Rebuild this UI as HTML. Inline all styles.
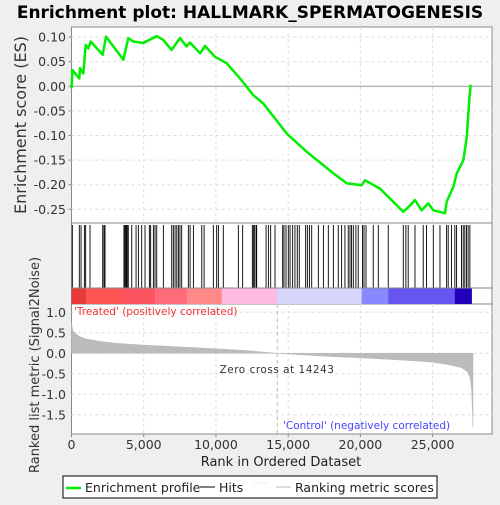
<!DOCTYPE html>
<html><head><meta charset="utf-8"><style>
body{margin:0;background:#efefef;width:500px;height:500px;overflow:hidden;font-family:"Liberation Sans","DejaVu Sans",sans-serif}
svg text{font-family:"DejaVu Sans","Liberation Sans",sans-serif}
</style></head><body>
<svg id="c" width="500" height="500"></svg>
<script>
const esRanks=[0,60,540,590,820,980,1165,1330,2160,2390,3590,3930,4280,4970,5900,6360,6930,7510,7970,8200,8900,9240,9935,10740,11665,12590,13280,14900,16280,18130,19050,20090,20320,21360,22970,23440,23780,24240,24700,25050,25860,25970,26440,26670,27130,27370,27550,27640];
const esValues=[-0.004,0.033,0.016,0.037,0.026,0.084,0.077,0.091,0.064,0.101,0.054,0.098,0.091,0.088,0.102,0.094,0.074,0.098,0.081,0.089,0.067,0.082,0.060,0.047,0.016,-0.018,-0.035,-0.096,-0.133,-0.177,-0.197,-0.201,-0.191,-0.208,-0.255,-0.242,-0.231,-0.252,-0.238,-0.252,-0.258,-0.235,-0.204,-0.177,-0.150,-0.102,-0.024,0.003];
const hitRanks=[58,540,660,890,980,1280,2160,2250,2320,3630,3700,3770,3820,3890,3930,4170,4470,4630,4860,5090,5390,5480,5670,5780,5900,6360,6940,7050,7170,7290,7400,7510,7630,8090,8210,8440,9020,9180,9820,10050,10170,10510,11550,11850,12520,12590,12680,12780,12820,13470,13630,13790,14090,14620,14710,14850,15010,15130,15310,15470,15630,15770,16210,16330,16470,16630,17090,17440,17780,18130,18470,18700,18930,19160,19280,19390,19510,19690,19850,20150,20250,20390,20890,21240,21930,22970,23150,23310,23780,24350,24580,25050,25510,25970,26080,26310,26540,26660,27000,27120,27230,27350,27460,27580];
const metricRanks=[0,100,500,1000,2000,3000,5000,8000,10000,12000,14243,16000,18000,20000,22000,24000,25000,26000,27000,27400,27600,27700,27800];
const metricValues=[0.75,0.55,0.42,0.35,0.29,0.25,0.2,0.15,0.11,0.07,0,-0.04,-0.08,-0.11,-0.15,-0.19,-0.22,-0.27,-0.35,-0.45,-0.6,-0.9,-1.8];
const xTicks=[0,5000,10000,15000,20000,25000];
const esTicks=[0.10,0.05,0.00,-0.05,-0.10,-0.15,-0.20,-0.25];
const mTicks=[1.0,0.5,0.0,-0.5,-1.0,-1.5];
const zeroCross=14243;

const L=71.5,R=492;
const X=r=>L+r*0.014444;
const YE=v=>86.3-v*492;
const YM=v=>353.3-v*41;
const svg=document.getElementById('c');
const NS='http://www.w3.org/2000/svg';
function add(tag,attrs,parent){const e=document.createElementNS(NS,tag);for(const k in attrs)e.setAttribute(k,attrs[k]);(parent||svg).appendChild(e);return e;}
function txt(s,attrs){const e=add('text',attrs);e.textContent=s;return e;}

let t=txt('Enrichment plot: HALLMARK_SPERMATOGENESIS',{x:250,y:18,'text-anchor':'middle','font-size':'17','font-weight':'bold',fill:'#000'});


let p=add('rect',{x:L,y:27,width:R-L,height:196,fill:'#fff',stroke:'#888'});

p=add('rect',{x:L,y:223,width:R-L,height:81,fill:'#fff',stroke:'#888'});

p=add('rect',{x:L,y:304,width:R-L,height:130,fill:'#fff',stroke:'#888'});


xTicks.forEach(v=>{if(v>0){add('line',{x1:X(v),x2:X(v),y1:27,y2:223,stroke:'#ddd','stroke-dasharray':'3,3'});add('line',{x1:X(v),x2:X(v),y1:304,y2:434,stroke:'#ddd','stroke-dasharray':'3,3'});}});
esTicks.forEach(v=>{add('line',{x1:L,x2:R,y1:YE(v),y2:YE(v),stroke:v===0?'#999':'#ddd','stroke-dasharray':v===0?'':'3,3'});
 const e=txt(v.toFixed(2),{x:66,y:YE(v)+4.5,'text-anchor':'end','font-size':'12.5',fill:'#333'});
 
 add('line',{x1:L-3,x2:L,y1:YE(v),y2:YE(v),stroke:'#888'});});
mTicks.forEach(v=>{add('line',{x1:L,x2:R,y1:YM(v),y2:YM(v),stroke:'#ddd','stroke-dasharray':'3,3'});
 const e=txt(v.toFixed(1),{x:66,y:YM(v)+4.5,'text-anchor':'end','font-size':'12.5',fill:'#333'});
 });
xTicks.forEach(v=>{const e=txt(v.toLocaleString('en-US'),{x:X(v),y:449,'text-anchor':'middle','font-size':'12.5',fill:'#333'});
 
 add('line',{x1:X(v),x2:X(v),y1:434,y2:437,stroke:'#888'});});

let d=esRanks.map((r,i)=>(i?'L':'M')+X(r).toFixed(1)+','+YE(esValues[i]).toFixed(1)).join(' ');
let es=add('path',{d:d,fill:'none',stroke:'#00ee00','stroke-width':2.5,'stroke-linejoin':'round'});


hitRanks.forEach(r=>{const h=add('line',{x1:X(r),x2:X(r),y1:225,y2:288,stroke:'#000','stroke-width':0.9});
 });

const segs=[[0,1000,'#e83a3a'],[1000,3640,'#ff5555'],[3640,5780,'#fa5560'],[5780,7980,'#ff6b78'],[7980,10400,'#ff8888'],[10400,14210,'#ffbbe0'],[14210,20090,'#d6d6fa'],[20090,21930,'#8888ff'],[21930,26540,'#6655ee'],[26540,27700,'#2200bb']];
segs.forEach(s=>{const r=add('rect',{x:X(s[0]),y:288,width:X(s[1])-X(s[0])+0.3,height:16,fill:s[2]});
 });
add('line',{x1:L,x2:R,y1:288,y2:288,stroke:'#888'});

let md='M'+X(0)+','+YM(0)+' '+metricRanks.map((r,i)=>'L'+X(r).toFixed(1)+','+YM(metricValues[i]).toFixed(1)).join(' ')+' L'+X(metricRanks[metricRanks.length-1])+','+YM(0)+'Z';
let ma=add('path',{d:md,fill:'#bbb',stroke:'#bbb','stroke-width':0.5});

add('line',{x1:X(zeroCross),x2:X(zeroCross),y1:304,y2:434,stroke:'#bbb','stroke-dasharray':'4,3'});
t=txt('Zero cross at 14243',{x:277,y:373,'text-anchor':'middle','font-size':'10.5',fill:'#333','letter-spacing':'0.5'});

t=txt("'Treated' (positively correlated)",{x:74,y:315,'font-size':'10.5',fill:'#ee3333'});

t=txt("'Control' (negatively correlated)",{x:283,y:429,'font-size':'10.5',fill:'#4444ff'});


t=txt('Enrichment score (ES)',{x:0,y:0,transform:'translate(26,125) rotate(-90)','text-anchor':'middle','font-size':'16',fill:'#333'});

t=txt('Ranked list metric (Signal2Noise)',{x:0,y:0,transform:'translate(39,365) rotate(-90)','text-anchor':'middle','font-size':'13',fill:'#333'});

t=txt('Rank in Ordered Dataset',{x:281,y:466,'text-anchor':'middle','font-size':'13',fill:'#222'});


const lg=add('g',{});

add('rect',{x:63,y:476,width:374,height:22,fill:'#fff',stroke:'#000'},lg);
add('line',{x1:66,x2:81,y1:488,y2:488,stroke:'#00ee00','stroke-width':2.5},lg);
let e=add('text',{x:85,y:492,'font-size':'12.5',fill:'#222'},lg);e.textContent='Enrichment profile';

add('line',{x1:200,x2:215,y1:487,y2:487,stroke:'#000','stroke-width':1},lg);
e=add('text',{x:219,y:492,'font-size':'12.5',fill:'#222'},lg);e.textContent='Hits';

add('line',{x1:253,x2:268,y1:483,y2:483,stroke:'#eee','stroke-width':1},lg);
add('line',{x1:276,x2:291,y1:487,y2:487,stroke:'#bbb','stroke-width':1},lg);
e=add('text',{x:295,y:492,'font-size':'12.5',fill:'#222'},lg);e.textContent='Ranking metric scores';

</script>
</body></html>
